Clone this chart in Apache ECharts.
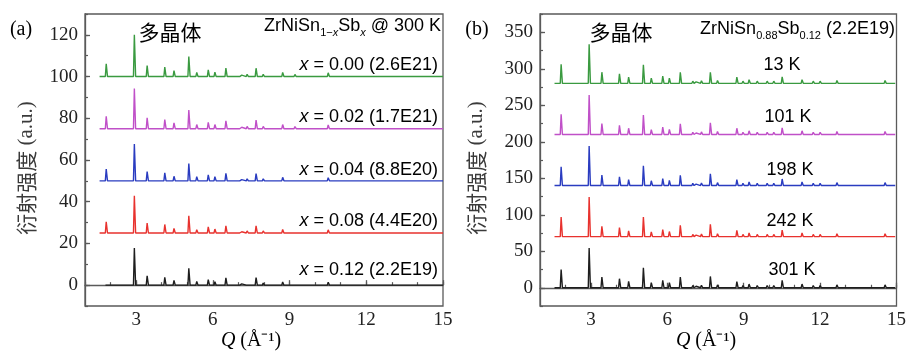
<!DOCTYPE html>
<html><head><meta charset="utf-8">
<script src="https://cdn.jsdelivr.net/npm/echarts@6/dist/echarts.min.js"></script>
<style>html,body{margin:0;padding:0;background:#fff}#c{width:909px;height:352px}</style>
</head><body><div id="c"></div>
<script>
// Peak positions Q (1/Å)
const peakQ = [1.83,2.06,2.93,3.43,4.12,4.48,5.06,5.37,5.82,6.08,6.51,7.00,7.13,7.34,7.69,7.97,8.73,8.97,9.21,9.53,9.92,10.18,10.51,11.29,11.73,12.00,12.66,13.30,13.96,14.55];
// Panel (a) peak heights, ZrNiSn1-xSbx @ 300 K
const hX012 = [0.3,0.2,17.8,4.5,3.7,2.3,8.1,1.8,2.6,1.6,3.5,0.8,0.6,0.9,3.6,1.0,1.5,0.6,0.9,0.6,0.6,0.5,1.4,0.8,0.4,0.6,0.6,0.4,0.4,0.5];
const hX008 = [5.4,0.4,17.9,4.8,4.1,2.2,8.3,1.6,2.9,1.9,3.4,0.8,0.6,1.0,3.4,1.0,1.7,0.6,0.9,0.6,0.6,0.5,1.5,0.8,0.4,0.6,0.6,0.4,0.4,0.5];
const hX004 = [5.6,0.4,17.7,4.5,3.8,2.2,8.3,2.0,2.9,2.0,3.6,0.8,0.6,1.0,3.5,1.0,1.7,0.6,0.9,0.6,0.6,0.5,1.5,0.8,0.4,0.6,0.6,0.4,0.4,0.5];
const hX002 = [6.0,0.4,19.3,5.2,4.4,2.8,8.9,2.0,3.0,2.0,3.8,0.9,0.7,1.1,4.1,1.1,2.0,0.7,1.0,0.7,0.7,0.6,1.8,0.9,0.5,0.7,0.7,0.5,0.5,0.6];
const hX000 = [6.1,0.4,20.0,5.3,4.5,2.9,9.6,2.0,3.2,2.1,4.1,0.9,0.7,1.1,4.0,1.1,2.0,0.7,1.0,0.7,0.7,0.6,1.8,0.9,0.5,0.7,0.7,0.5,0.5,0.6];
const offsetsA = [0,25,50,75,100];
const startsA = [1.80,1.57,1.57,1.57,1.57];
// Panel (b) peak heights, ZrNiSn0.88Sb0.12 at temperatures
const hT301 = [25.0,2,54.5,14.6,12.4,8.7,27.5,6.9,10.0,7.0,14.6,3,2,3.5,15.5,4,8.5,3,5,3,3,3,10,5,3,3,4,2,2,4];
const hT242 = [27.0,2,54.4,14.0,12.4,7.8,27.0,6.4,9.6,7.0,15.5,3,2,3.5,17.0,4,8.5,3,5,3,3,3,9,5,3,3,4,2,2,4];
const hT198 = [25.7,2,54.0,14.5,12.0,8.0,27.0,6.5,9.5,7.0,14.0,3,2,3.5,16.0,4,8.0,3,5,3,3,3,9,5,3,3,4,2,2,4];
const hT101 = [27.6,2,54.0,15.0,12.5,8.5,26.6,6.5,10.0,7.0,14.5,3,2,3.5,16.0,4,8.5,3,5,3,3,3,9,5,3,3,4,2,2,4];
const hT013 = [26.0,2,53.7,15.3,13.0,8.5,25.3,7.0,10.0,7.0,15.0,3,2,3.5,15.0,4,8.5,3,5,3,3,3,9,5,3,3,4,2,2,4];
const offsetsB = [0,70,140,210,280];
const startsB = [1.57,1.57,1.57,1.57,1.57];
const colors = ['#1e1e1e','#e8322e','#2a3cc0','#c050c8','#3a9a40'];
const labelsA = ['0.12 (2.2E19)','0.08 (4.4E20)','0.04 (8.8E20)','0.02 (1.7E21)','0.00 (2.6E21)'];
const labelsB = ['301 K','242 K','198 K','101 K','13 K'];
const xTicks = [3,6,9,12,15];
const yTicksA = [0,20,40,60,80,100,120];
const yTicksB = [0,50,100,150,200,250,300,350];

function buildLine(start, end, base, heights){
  const pts = [[start, base]];
  peakQ.forEach((q,i)=>{
    const h = heights[i];
    if (q < start) return;
    pts.push([q-0.035, base],[q, base+h],[q+0.05, base]);
  });
  pts.push([end, base]);
  return pts;
}

const SERIF = 'Liberation Serif';
const SANS = 'Liberation Sans';
const CJK = 'Noto Sans CJK SC';
const axisCol = '#5a5a5a';

function majorX(gi){
  return {gridIndex:gi,type:'value',min:1,max:15,position:'bottom',
    axisLine:{show:true,lineStyle:{color:axisCol,width:1.3}},
    axisTick:{show:true,inside:true,length:5,customValues:xTicks,lineStyle:{color:axisCol,width:1.3}},
    axisLabel:{customValues:xTicks,fontFamily:SERIF,fontSize:19,color:'#222',margin:5},
    splitLine:{show:false}};
}
function minorX(gi){
  return {gridIndex:gi,type:'value',min:1,max:15,interval:1,position:'bottom',
    axisLine:{show:false},axisTick:{show:true,inside:true,length:3,lineStyle:{color:axisCol,width:1.2}},
    axisLabel:{show:false},splitLine:{show:false}};
}
function majorY(gi,min,max,ticks,gap){
  return {gridIndex:gi,type:'value',min:min,max:max,position:'left',
    axisLine:{show:true,lineStyle:{color:axisCol,width:1.3}},
    axisTick:{show:true,inside:true,length:5,customValues:ticks,lineStyle:{color:axisCol,width:1.3}},
    axisLabel:{customValues:ticks,fontFamily:SERIF,fontSize:19,color:'#222',margin:7},
    splitLine:{show:false},
    name:'{c|衍射强度}{s| (a.u.)}',nameLocation:'middle',nameGap:gap,nameRotate:90,
    nameTextStyle:{padding:[0,16,0,0],rich:{c:{fontFamily:CJK,fontSize:21,color:'#3a3a3a'},s:{fontFamily:SERIF,fontSize:21,color:'#3a3a3a'}}}};
}
function minorY(gi,min,max,iv){
  return {gridIndex:gi,type:'value',min:min,max:max,interval:iv,position:'left',
    axisLine:{show:false},axisTick:{show:true,inside:true,length:3,lineStyle:{color:axisCol,width:1.2}},
    axisLabel:{show:false},splitLine:{show:false}};
}

const series = [];
const hA = [hX012,hX008,hX004,hX002,hX000];
const hB = [hT301,hT242,hT198,hT101,hT013];
hA.forEach((h,i)=>series.push({type:'line',xAxisIndex:0,yAxisIndex:0,showSymbol:false,silent:true,
  lineStyle:{color:colors[i],width:1.4},data:buildLine(startsA[i],15,offsetsA[i],h)}));
hB.forEach((h,i)=>series.push({type:'line',xAxisIndex:1,yAxisIndex:1,showSymbol:false,silent:true,
  lineStyle:{color:colors[i],width:1.4},data:buildLine(startsB[i],14.95,offsetsB[i],h)}));

const subStyle = {fontFamily:SANS,fontSize:11,color:'#222',verticalAlign:'top',lineHeight:11,padding:[10,0,0,0]};
const mainStyle = {fontFamily:SANS,fontSize:18,color:'#222',verticalAlign:'top',lineHeight:18};
const gtext = [];
function T(x,y,text,rich,align,valign){
  gtext.push({type:'text',x:x,y:y,silent:true,style:{text:text,rich:rich,textAlign:align||'left',textVerticalAlign:valign||'middle'}});
}
const richLbl = {i:{fontFamily:SANS,fontSize:18,fontStyle:'italic',color:'#222'},m:{fontFamily:SANS,fontSize:18,color:'#222'}};
const labelYA = [270,221,170,117,65];
labelsA.forEach((t,i)=>T(438,labelYA[i],'{i|x}{m| = '+t+'}',richLbl,'right'));
const labelXB = [792,790,790,788,782];
labelsB.forEach((t,i)=>T(labelXB[i],labelYA[i],'{m|'+t+'}',richLbl,'center'));
const richCJK = {c:{fontFamily:CJK,fontSize:21,color:'#222'}};
T(170,32,'{c|多晶体}',richCJK,'center');
T(621,32,'{c|多晶体}',richCJK,'center');
const richTitle = {m:mainStyle,s:subStyle,si:Object.assign({},subStyle,{fontStyle:'italic'})};
T(441,17,'{m|ZrNiSn}{s|1−}{si|x}{m|Sb}{si|x}{m| @ 300 K}',richTitle,'right','top');
T(895,20,'{m|ZrNiSn}{s|0.88}{m|Sb}{s|0.12}{m| (2.2E19)}',richTitle,'right','top');
const richSerif = {r:{fontFamily:SERIF,fontSize:20,color:'#222'},q:{fontFamily:SERIF,fontSize:20,fontStyle:'italic',color:'#222'}};
T(21,30,'{r|(a)}',richSerif,'center');
T(477,30,'{r|(b)}',richSerif,'center');
T(251,341,'{q|Q}{r| (Å⁻¹)}',richSerif,'center');
T(706,341,'{q|Q}{r| (Å⁻¹)}',richSerif,'center');

const chart = echarts.init(document.getElementById('c'),null,{renderer:'canvas'});
chart.setOption({
  animation:false,
  backgroundColor:'#fff',
  grid:[
    {left:85,right:466,top:14,bottom:46,show:true,borderColor:axisCol,borderWidth:1.3,backgroundColor:'transparent'},
    {left:540,right:11,top:14,bottom:46,show:true,borderColor:axisCol,borderWidth:1.3,backgroundColor:'transparent'}
  ],
  xAxis:[majorX(0),majorX(1),minorX(0),minorX(1)],
  yAxis:[majorY(0,-10,130,yTicksA,48),majorY(1,-25,375,yTicksB,53),minorY(0,-10,130,10),minorY(1,-25,375,25)],
  series:series,
  graphic:gtext
});
</script></body></html>
